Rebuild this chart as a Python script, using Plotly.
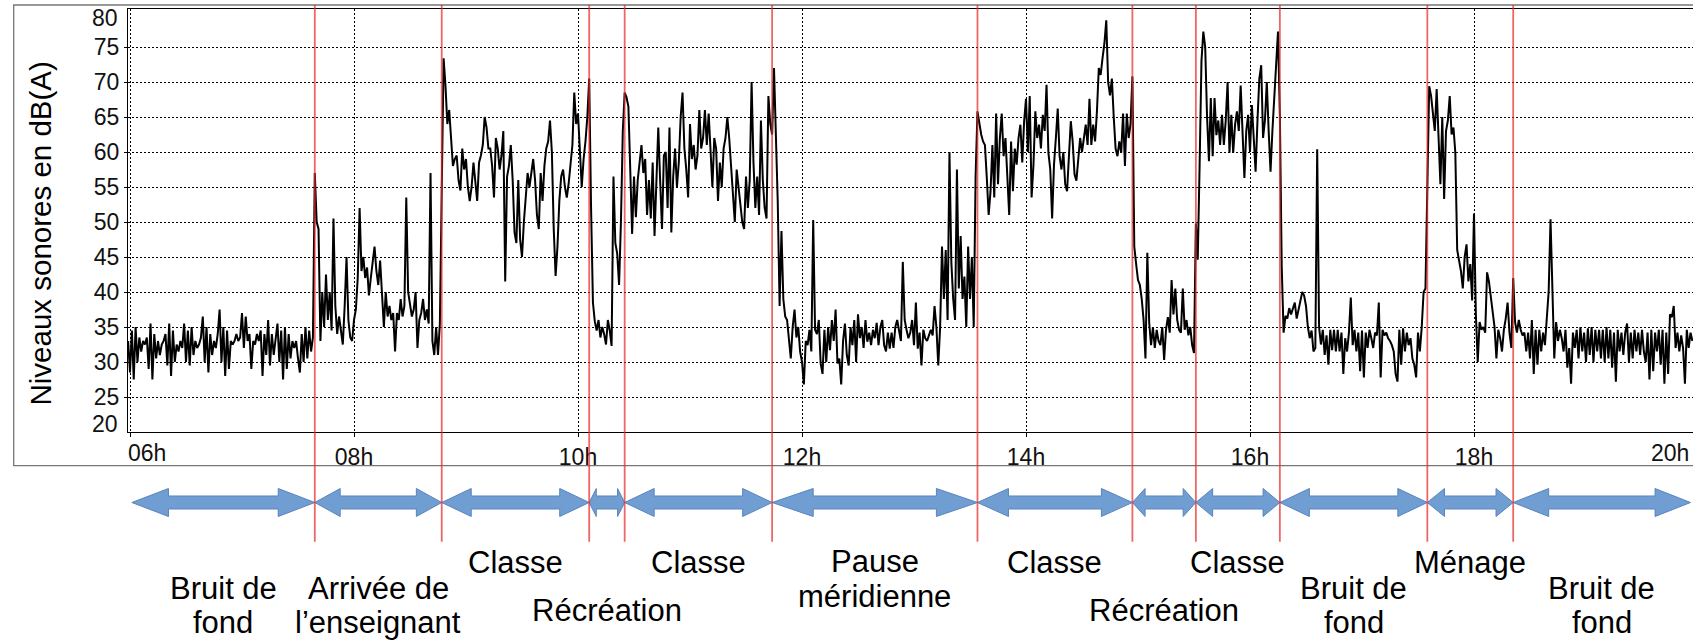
import numpy as np
import plotly.graph_objects as go

# LAeq 1 min, dB(A), one list per phase of the day (first sample at 05:59)
DEBUT = "05:59"

bruit_fond_matin = [
    33, 28.5, 34.5, 27.5, 35, 30, 33.5, 31.5, 33, 32.5,
    33.5, 29, 35.5, 27.5, 34, 30.5, 33, 31, 32.5, 33,
    34, 29.5, 35.5, 28, 34.5, 30, 32.5, 31.5, 33, 32,
    35.5, 30, 34.5, 29.5, 35, 31, 33, 32, 32.5, 33.5,
    36.5, 30, 35, 28.5, 34, 31, 33, 32, 34, 37.5,
    30, 35, 28, 34.5, 29, 33, 32.5, 33, 34, 33,
    33.5, 37, 32, 36.5, 33, 34, 29, 33, 32.5, 34,
    33, 34.5, 28, 34, 31, 36, 29.5, 34, 31, 33,
    35.5, 30, 34.5, 27.5, 35, 29, 34, 30.5, 33, 32,
    33, 30.5, 28.5, 34, 30, 35, 30.5, 34.5, 31.5, 33.5,
]
arrivee_enseignant = [
    57, 50, 49, 33, 40, 35, 42.5, 36, 40, 34.5,
    50.5, 38, 34, 36.5, 34, 32.5, 38, 45, 36, 33.5,
    33, 36, 37.5, 42, 52, 43, 45, 42, 43.5, 39.5,
    42, 44, 46.5, 43, 41, 44.5, 39, 35, 40, 36.5,
    38, 36, 37, 31.5, 37, 36, 39, 36.5, 38, 53.5,
    40, 38, 36.5, 37.5, 40, 32, 36, 37, 39, 36,
    37.5, 35.5, 57, 33, 31, 35, 31, 35.5,
]
classe_1 = [
    52, 73.4, 69.5, 64, 66, 62.5, 58, 59, 59.5, 56,
    54.5, 60.5, 57.5, 59, 55, 53, 55, 58.5, 56, 53,
    58.5, 59.5, 61, 65, 63.5, 60.5, 60.5, 58, 53.5, 62,
    60.5, 57.5, 59.5, 63, 41.5, 56.5, 58, 61, 56, 48.5,
    47, 56, 47.5, 45, 50, 54, 57, 55, 57.5, 59,
    56, 51, 49, 57, 53, 58, 60.5, 61.5, 64.5, 60,
    49, 42.3, 46.5, 53, 56.5, 57.5, 55, 53.5, 55.5, 58,
    61, 68.5, 64, 65.5, 59.5, 55, 59, 61.5, 65,
]
recreation_1 = [
    70.5, 52, 38.5, 35.8, 34.5, 36, 33.5, 35, 34, 32.5,
    36, 34.5, 32.3, 56.5, 47, 45.5, 41, 50, 63,
]
classe_2 = [
    68.5, 67.8, 66.5, 57.5, 48.3, 56.5, 50.7, 56, 59, 61,
    57, 59, 51, 56, 50.5, 58.5, 48, 55, 63.5, 56,
    49, 59.5, 60, 52, 63.5, 48.5, 56.5, 60.5, 55, 58.5,
    65, 68.5, 60.5, 57.5, 53.5, 64, 59, 61, 57.5, 59.5,
    66, 60.5, 62, 66, 61, 65.5, 60, 55, 62, 60.5,
    53, 58.5, 55, 60.5, 62, 65, 62, 57.5, 53, 50,
    57.5, 55, 52, 50, 49, 56.5, 52, 56, 70, 58.5,
    52, 56.5, 51, 64.5, 56, 52, 50.5, 68, 64, 62.5,
]
pause_meridienne = [
    72, 62, 53, 38, 48.7, 39, 36.5, 36, 33, 30.5,
    35, 37.5, 33.5, 35, 31.5, 30, 26.8, 33, 32.4, 34.6,
    31.5, 50.3, 34.6, 34, 36, 29.8, 28.3, 34.6, 30, 35,
    31.7, 36, 33, 37.5, 29.8, 30.5, 26.8, 33, 35.5, 31,
    29.5, 35, 32.4, 36, 30, 36.8, 33.4, 35, 32, 36,
    32.9, 34.2, 32.4, 34.6, 33.4, 35.6, 32.4, 35, 36, 32.4,
    31.5, 34.2, 31.9, 34.2, 32, 35, 36, 34.2, 33, 44.3,
    36, 34.6, 33.4, 34.2, 36, 32.4, 38.5, 31.9, 34.2, 29.5,
    34.6, 33.4, 33, 33.8, 34.6, 33.8, 38, 35, 29.5, 35,
    46.5, 39, 46, 36, 60, 44.3, 39, 36, 57.5, 40.5,
    48, 39, 42.2, 35, 46.5, 39, 45, 35, 56.5,
]
classe_3 = [
    65.8, 63.9, 62.5, 61.5, 61, 56.3, 51, 54.4, 61, 53.5,
    65.5, 55.4, 62, 65.5, 59.4, 62, 57.2, 51, 61.5, 54.4,
    60.5, 58.2, 62, 63.9, 58.5, 64.4, 67.6, 60, 68, 53.5,
    58.2, 65.8, 62, 63.9, 60.5, 65.3, 63, 69.6, 59.9, 57.5,
    50.5, 58.2, 62, 66.2, 59.4, 57.5, 60, 55.4, 54.4, 59.4,
    64.4, 61.5, 56.8, 55.9, 59.4, 62, 60, 62, 63.9, 61,
    67.6, 61, 63.9, 61.5, 65.8, 72, 71, 73.4, 75.5, 78.8,
    70, 68.1, 70.5, 65, 60.5, 59.4, 61.5, 59.9, 65.5, 58,
    65.5, 62, 64,
]
recreation_2 = [
    70.8, 46.5, 44, 41.7, 41, 39, 36, 30.5, 45.6, 35.6,
    32.4, 35, 32, 34.6, 33, 32.4, 35, 30.3, 34.6, 36.4,
    34.2, 41.7, 36.8, 40.5, 36, 34.6, 34.2, 40.5, 34.6, 36,
    33.8, 35, 32.4, 31.3,
]
classe_4 = [
    49.8, 44.6, 58, 73, 77.2, 75, 65, 58.7, 67.7, 59.4,
    67.7, 62.4, 64.5, 61, 65.3, 61, 64.5, 70, 59.9, 65.3,
    59.9, 63.9, 65.8, 63, 69.5, 63, 56.3, 63, 65.3, 60,
    66.7, 62, 57.2, 64.5, 70.5, 72.4, 62, 64.5, 70, 63,
    57.2, 63, 68.3, 72.4, 77.2,
]
bruit_fond_soir = [
    65.3, 43.6, 34.2, 36.6, 36.2, 37.7, 36.8, 37.5, 38.5, 36.2,
    37.5, 39, 40, 39.5, 38, 35, 33.4, 34.5, 31.5, 32,
    60.4, 35, 32.5, 34.6, 31, 33.8, 29.6, 34.6, 31.7, 34.6,
    31.5, 34.6, 31.5, 34.2, 28.3, 33.4, 31.5, 34.2, 39.2, 32.4,
    34.6, 31.5, 34.2, 28.7, 34.5, 27.8, 34.2, 32, 34.6, 33.4,
    32, 34.2, 33.8, 38.5, 27.8, 34.6, 33.8, 34.2, 33.4, 33,
    32.4, 31.5, 28.3, 27.2, 34.6, 29.6, 34.8, 31.5, 34.2, 32.4,
    33.4, 30.5, 29.6, 27.8, 34.2, 31.5, 35, 40, 40.5,
]
menage = [
    55, 69.4, 68, 65.3, 63, 69, 62, 55.4, 65, 53.3,
    63, 64.5, 68, 62.5, 63.5, 59.9, 46, 44.6, 43, 40.5,
    45, 46.8, 41.5, 44, 38.8, 51.2, 36.8, 30, 35.7, 34.6,
    35, 34.2, 42.8, 41.5, 39, 36.8, 35, 30.5, 34.6, 33.4,
    31.5, 34.6, 36.2, 38.5, 34.2, 32,
]
bruit_fond_nuit = [
    42, 35.7, 34.2, 36, 34.6, 33.8, 34.2, 31.5, 34.2, 30.5,
    36, 28.3, 34.6, 29.6, 34.6, 31.5, 34.2, 32.4, 36.8, 40.1,
    50.4, 39.5, 30.5, 35.7, 33, 34.6, 33.4, 31.5, 34.6, 29.2,
    32, 26.9, 34.2, 32, 34.6, 30.5, 35, 31.5, 34.2, 30,
    34.8, 31, 35, 30, 34.6, 31.5, 34.6, 30.5, 34.6, 30,
    35, 30.5, 34.6, 29.2, 34.2, 27.2, 34.6, 31.5, 34.2, 31,
    34.2, 35.5, 30, 34.2, 30.5, 34.6, 31.5, 34.2, 31, 34.6,
    31.5, 30, 34.2, 27.5, 34.6, 28.7, 34.2, 31.5, 34.6, 29.6,
    34.6, 26.9, 34.2, 28.3, 36.8, 36.4, 38, 32, 34.2, 31.5,
    33.8, 32, 26.9, 34.6, 32, 34.2, 33,
]

# Phase limits (red markers) and phase names shown under the arrows
limites = ["06:01", "07:39", "08:47", "10:06", "10:25", "11:44", "13:34",
           "14:57", "15:31", "16:16", "17:35", "18:21", "19:56"]
phases = ["Bruit de\nfond", "Arrivée de\nl’enseignant", "Classe", "Récréation",
          "Classe", "Pause\nméridienne", "Classe", "Récréation", "Classe",
          "Bruit de\nfond", "Ménage", "Bruit de\nfond"]

heures = [6, 8, 10, 12, 14, 16, 18, 20]
niveaux_y = [20, 25, 30, 35, 40, 45, 50, 55, 60, 65, 70, 75, 80]


def en_heures(hhmm):
    h, m = hhmm.split(":")
    return int(h) + int(m) / 60


niveaux = np.concatenate([
    bruit_fond_matin, arrivee_enseignant, classe_1, recreation_1, classe_2,
    pause_meridienne, classe_3, recreation_2, classe_4, bruit_fond_soir,
    menage, bruit_fond_nuit,
])
t = en_heures(DEBUT) + np.arange(len(niveaux)) / 60

# ---- page geometry (pixels) ----
W, H = 1693, 640
ML, MR, MT, MB = 128, 0, 9, 208
PW, PH = W - ML - MR, H - MT - MB
PX_PER_H = 112.0
X0_H = 6 + (ML - 130) / PX_PER_H
X_RANGE = [X0_H, X0_H + PW / PX_PER_H]
Y_RANGE = [20, 20 + PH / 7.0]


def py(ypx):
    return (H - MB - ypx) / PH


def px(xpx):
    return (xpx - ML) / PW


FONT = "Liberation Sans, Arial, sans-serif"
DOT = "2px,2px"

fig = go.Figure()
fig.add_trace(go.Scatter(
    x=t, y=niveaux, mode="lines",
    line=dict(color="black", width=2.0),
    hoverinfo="skip", showlegend=False,
))

shapes = []
# outer frame around the chart
shapes.append(dict(type="rect", xref="paper", yref="paper",
                   x0=px(13.7), x1=px(W + 10), y0=py(465.7), y1=py(5),
                   line=dict(color="#777777", width=1.3), layer="below"))

# double arrows, one per phase
Y_C = py(502.5)
HEAD_H = 14 / PH
SHAFT_H = 6.5 / PH
for a, b in zip(limites[:-1], limites[1:]):
    x0, x1 = en_heures(a), en_heures(b)
    hl = 0.2 * (x1 - x0)
    pts = [
        (x0, Y_C), (x0 + hl, Y_C + HEAD_H), (x0 + hl, Y_C + SHAFT_H),
        (x1 - hl, Y_C + SHAFT_H), (x1 - hl, Y_C + HEAD_H), (x1, Y_C),
        (x1 - hl, Y_C - HEAD_H), (x1 - hl, Y_C - SHAFT_H),
        (x0 + hl, Y_C - SHAFT_H), (x0 + hl, Y_C - HEAD_H),
    ]
    path = "M" + " L".join(f"{x:.5f},{y:.5f}" for x, y in pts) + " Z"
    shapes.append(dict(type="path", path=path, xref="x", yref="paper",
                       fillcolor="rgb(113,158,210)",
                       line=dict(color="rgb(88,132,190)", width=1),
                       layer="above"))

# red phase limits
for lim in limites[1:-1]:
    xv = en_heures(lim)
    shapes.append(dict(type="line", xref="x", yref="paper",
                       x0=xv, x1=xv, y0=py(541.7), y1=py(5),
                       line=dict(color="rgba(232,45,45,0.72)", width=1.8),
                       layer="above"))

annotations = []
# phase names, line by line
lignes_y = {
    "Classe": [562],
    "Ménage": [562],
    "Pause\nméridienne": [561, 596],
    "Récréation": [610],
    "Bruit de\nfond": [588.5, 622.5],
    "Arrivée de\nl’enseignant": [588.5, 622.5],
}
for nom, a, b in zip(phases, limites[:-1], limites[1:]):
    xm = (en_heures(a) + en_heures(b)) / 2
    for ligne, yl in zip(nom.split("\n"), lignes_y[nom]):
        annotations.append(dict(
            text=ligne, x=xm, y=py(yl), xref="x", yref="paper",
            xanchor="center", yanchor="middle", showarrow=False,
            font=dict(family=FONT, size=31, color="black"),
        ))

# y-axis title
annotations.append(dict(
    text="Niveaux sonores en dB(A)", textangle=-90,
    x=px(40), y=py(233.5), xref="paper", yref="paper",
    xanchor="center", yanchor="middle", showarrow=False,
    font=dict(family=FONT, size=29.5, color="black"),
))
# end tick labels, kept inside the frame
TICKFONT = dict(family=FONT, size=23, color="#111111")
annotations.append(dict(text=f"{niveaux_y[-1]}", x=px(119.5), y=py(18.3),
                        xref="paper", yref="paper", xanchor="right",
                        yanchor="middle", showarrow=False, font=TICKFONT))
annotations.append(dict(text=f"{niveaux_y[0]}", x=px(119.5), y=py(424.2),
                        xref="paper", yref="paper", xanchor="right",
                        yanchor="middle", showarrow=False, font=TICKFONT))
annotations.append(dict(text=f"{heures[0]:02d}h", x=px(146.5), y=py(453.3),
                        xref="paper", yref="paper", xanchor="center",
                        yanchor="middle", showarrow=False, font=TICKFONT))
annotations.append(dict(text=f"{heures[-1]:02d}h", x=px(1691), y=py(453.3),
                        xref="paper", yref="paper", xanchor="right",
                        yanchor="middle", showarrow=False, font=TICKFONT))

x_ticks = heures[:-1]
x_text = [""] + [f"{h:02d}h" for h in x_ticks[1:]]
y_ticks = niveaux_y[1:-1]

fig.update_layout(
    width=W, height=H,
    margin=dict(l=ML, r=MR, t=MT, b=MB, pad=0),
    paper_bgcolor="white", plot_bgcolor="white",
    showlegend=False,
    shapes=shapes, annotations=annotations,
    xaxis=dict(
        range=X_RANGE, tickmode="array", tickvals=x_ticks, ticktext=x_text,
        ticks="outside", ticklen=4, tickwidth=1, tickcolor="black",
        tickfont=TICKFONT, showgrid=True, gridcolor="#000000", gridwidth=1,
        griddash=DOT, showline=True, linecolor="black", linewidth=1.3,
        mirror=True, zeroline=False, fixedrange=True,
    ),
    yaxis=dict(
        range=Y_RANGE, tickmode="array", tickvals=y_ticks,
        ticktext=[str(v) for v in y_ticks],
        ticks="outside", ticklen=3, tickwidth=1, tickcolor="black",
        tickfont=TICKFONT, showgrid=True, gridcolor="#000000", gridwidth=1,
        griddash=DOT, showline=True, linecolor="black", linewidth=1.3,
        mirror=False, zeroline=False, fixedrange=True,
    ),
)

fig.write_html("out.html")
